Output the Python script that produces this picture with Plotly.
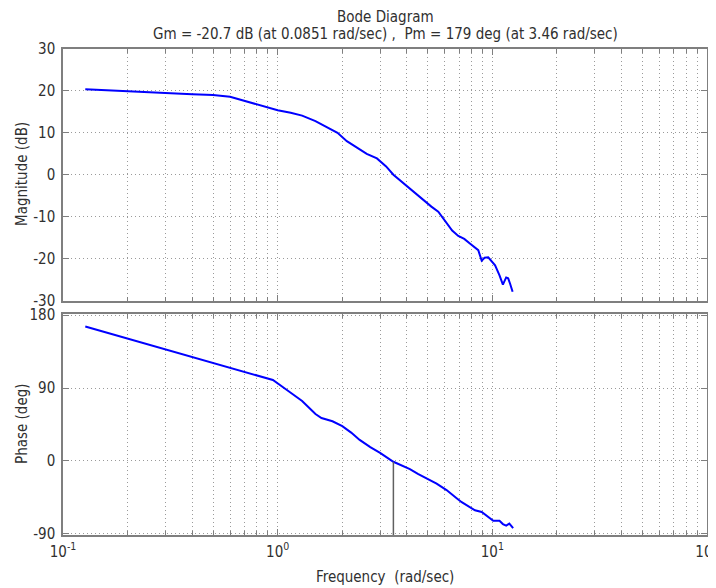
import plotly.graph_objects as go

# ---- data ----
mag_freq = [0.127, 0.15, 0.2, 0.25, 0.3, 0.4, 0.5, 0.6, 0.7, 0.8, 0.9, 1.0, 1.15, 1.3,
            1.5, 1.7, 1.9, 2.1, 2.3, 2.6, 2.9, 3.2, 3.46, 3.9, 4.28, 4.8, 5.2, 5.6, 6.1,
            6.5, 6.94, 7.4, 7.86, 8.3, 8.6, 8.92, 9.2, 9.57, 10.0, 10.3, 10.8, 11.2, 11.6,
            11.85, 12.1, 12.43]
mag_db = [20.4, 20.2, 19.9, 19.7, 19.5, 19.2, 19.0, 18.6, 17.6, 16.7, 16.0, 15.4, 14.8, 14.1,
          12.8, 11.4, 10.0, 8.0, 6.8, 5.0, 3.9, 2.0, 0.0, -2.2, -4.1, -6.2, -7.6, -8.8, -11.5,
          -13.3, -14.6, -15.3, -16.4, -17.5, -18.0, -20.5, -19.8, -19.7, -20.8, -21.6, -24.0,
          -26.2, -24.5, -24.7, -26.0, -27.9]

ph_freq = [0.127, 0.2, 0.3, 0.5, 0.7, 0.95, 1.1, 1.3, 1.5, 1.6, 1.8, 2.0, 2.2, 2.41, 2.7,
           3.0, 3.46, 4.13, 4.5, 4.94, 5.5, 6.12, 6.5, 6.82, 7.2, 7.6, 8.0, 8.3, 8.92, 9.57,
           10.1, 10.8, 11.2, 11.6, 12.0, 12.5]
ph_deg = [166, 151, 138, 121, 110, 100, 88, 74, 58, 53, 49, 43, 35, 26, 17,
          10, -1, -10, -16, -22, -28, -36, -41, -46, -51, -55, -58, -61, -63, -69,
          -74, -74, -78, -80, -77.5, -83]

pm_freq = 3.46
pm_line_phase = [-1, -180]

title_lines = ["Bode Diagram",
               "Gm = -20.7 dB (at 0.0851 rad/sec) ,  Pm = 179 deg (at 3.46 rad/sec)"]
mag_ticks = [-30, -20, -10, 0, 10, 20, 30]
mag_ticktext = ["-30", "-20", "-10", "0", "10", "20", "30"]
ph_ticks = [-90, 0, 90, 180]
ph_ticktext = ["-90", "0", "90", "180"]
freq_ticks = [0.1, 1, 10, 99.9]
freq_ticktext = ["10<sup>-1</sup>", "10<sup>0</sup>", "10<sup>1</sup>", "10<sup>2</sup>"]

FONT = "Liberation Sans Narrow, DejaVu Sans Condensed, Liberation Sans, sans-serif"
TXT = "#303030"
AX = "#7f7f7f"
GRID = "#9a9a9a"
DOT = "1px,3px"

# page body has an 8px margin; figure is sized to fit the 716x588 window
OFF = 8
W, H = 716 - OFF, 588 - OFF
L, R, T, B = 63 - OFF, 9, 49 - OFF, 53
PW, PH = W - L - R, H - T - B

fig = go.Figure()
fig.add_trace(go.Scatter(x=mag_freq, y=mag_db, mode="lines",
                         line=dict(color="#0000ff", width=2), xaxis="x", yaxis="y",
                         showlegend=False))
fig.add_trace(go.Scatter(x=ph_freq, y=ph_deg, mode="lines",
                         line=dict(color="#0000ff", width=2), xaxis="x2", yaxis="y2",
                         showlegend=False))
fig.add_trace(go.Scatter(x=[pm_freq, pm_freq], y=pm_line_phase, mode="lines",
                         line=dict(color="#606060", width=1.5), xaxis="x2", yaxis="y2",
                         showlegend=False))

common_x = dict(type="log", range=[-1, 2], tickvals=freq_ticks, ticktext=freq_ticktext,
                showline=True, linecolor=AX, linewidth=1.5, mirror="ticks",
                ticks="inside", ticklen=6, tickcolor=AX, automargin=False,
                showgrid=True, gridcolor=GRID, griddash=DOT, gridwidth=1,
                minor=dict(dtick="D1", ticks="inside", ticklen=4, tickcolor=AX,
                           showgrid=True, gridcolor=GRID, griddash=DOT, gridwidth=1),
                zeroline=False, ticklabelstandoff=2, ticklabeloverflow="allow",
                tickfont=dict(family=FONT, size=15, color=TXT))
common_y = dict(showline=True, linecolor=AX, linewidth=1.5, mirror="ticks",
                ticks="inside", ticklen=6, tickcolor=AX, automargin=False,
                showgrid=True, gridcolor=GRID, griddash=DOT, gridwidth=1,
                zeroline=False, ticklabelstandoff=3, ticklabeloverflow="allow",
                tickfont=dict(family=FONT, size=15, color=TXT))

fig.update_layout(
    width=W, height=H,
    margin=dict(l=L, r=R, t=T, b=B),
    paper_bgcolor="white", plot_bgcolor="white",
    xaxis=dict(common_x, domain=[0, 1], anchor="y", showticklabels=False, matches="x2"),
    yaxis=dict(common_y, domain=[0.4825, 1], anchor="x", range=[-30, 30],
               tickvals=mag_ticks, ticktext=mag_ticktext),
    xaxis2=dict(common_x, domain=[0, 1], anchor="y2"),
    yaxis2=dict(common_y, domain=[0, 0.4547], anchor="x2", range=[-91.5, 181.5],
                tickvals=ph_ticks, ticktext=ph_ticktext),
)


def px_x(p):
    # picture pixel -> paper fraction
    return (p - 63) / PW


def px_y(p):
    return (535 - p) / PH


f = dict(family=FONT, size=15, color=TXT)
fig.add_annotation(text=title_lines[0], xref="paper", yref="paper", x=0.5, y=px_y(17),
                   showarrow=False, yanchor="middle", font=f)
fig.add_annotation(text=title_lines[1], xref="paper", yref="paper", x=0.5, y=px_y(34),
                   showarrow=False, yanchor="middle", font=f)
fig.add_annotation(text="Magnitude (dB)", xref="paper", yref="paper", x=px_x(22), y=px_y(174),
                   showarrow=False, textangle=-90, xanchor="center", yanchor="middle", font=f)
fig.add_annotation(text="Phase (deg)", xref="paper", yref="paper", x=px_x(22), y=px_y(424),
                   showarrow=False, textangle=-90, xanchor="center", yanchor="middle", font=f)
fig.add_annotation(text="Frequency  (rad/sec)", xref="paper", yref="paper", x=0.5, y=px_y(577),
                   showarrow=False, yanchor="middle", font=f)

fig.write_html("out.html")
